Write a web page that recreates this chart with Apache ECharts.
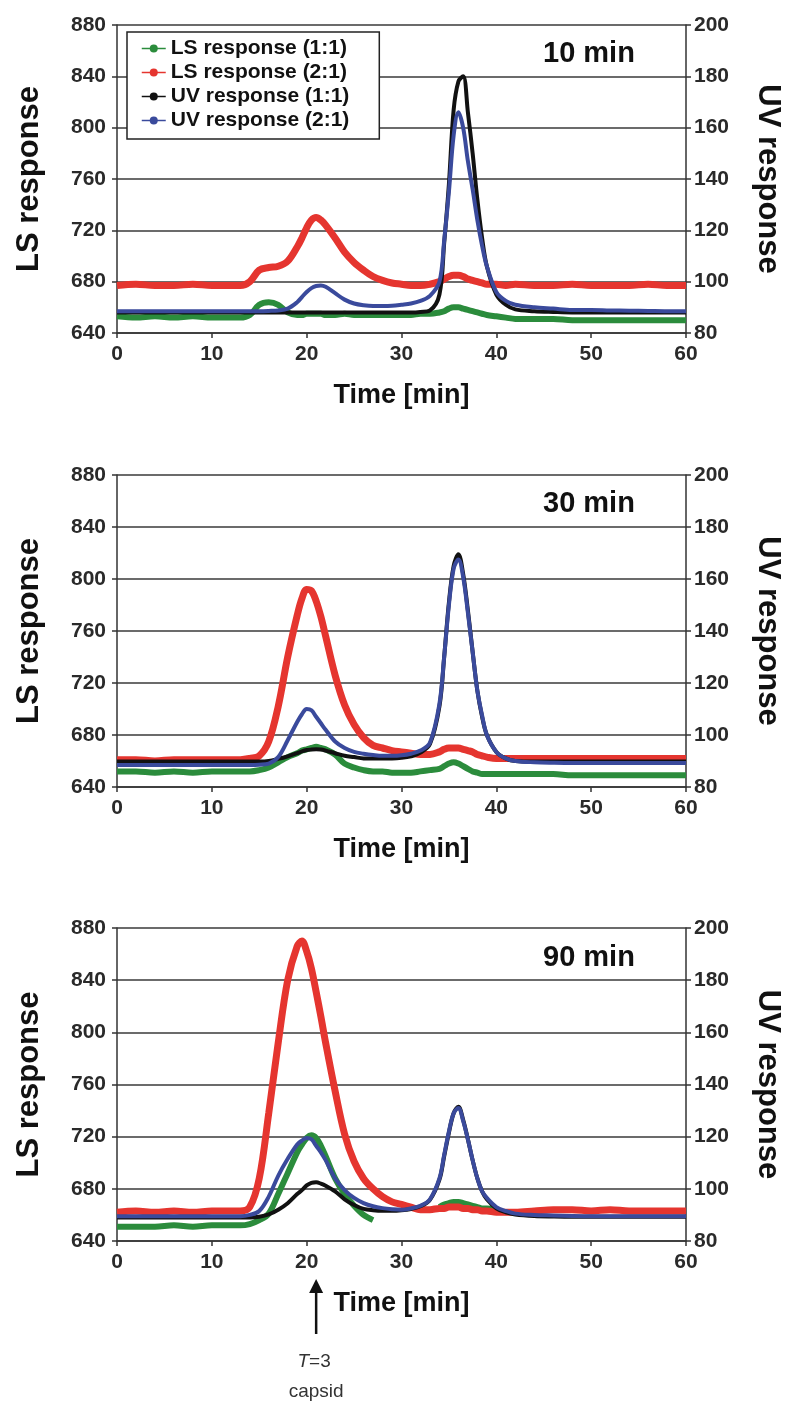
<!DOCTYPE html>
<html><head><meta charset="utf-8">
<script src="https://cdn.jsdelivr.net/npm/echarts@6/dist/echarts.min.js"></script>
<style>html,body{margin:0;padding:0;background:#fff}#c{width:800px;height:1420px}</style>
</head><body><div id="c"></div>
<script>
// ---- time axis (min) ----
const time = [0,2,4,6,8,10,12, 13,14,15,16,17,18,19, 19.5,20,20.5,21,21.5,
  22,23,24,25,26,27,28,29,30,31,32,33,34, 34.5,35,35.5,36,36.5,37,37.5,38,38.5,39,
  40,41,42, 44,46,48,50,52,54,56,58,60];

// ---- panel 1: 10 min ----
const ls11_10 = [653,652,653,652,653,652,652, 652,654,662,664,662,656,654, 654,655,655,655,655,
  654,654,655,654,654,654,654,654,654,654,655,655,656, 657,659,660,660,659,658,657,656,655,654,
  653,652,651, 651,651,650,650,650,650,650,650,650];
const ls21_10 = [677,678,677,677,678,677,677, 677,680,689,691,692,696,707, 714,722,728,730,728,
  724,714,703,695,689,684,681,679,678,677,677,678,680, 682,684,685,685,684,682,681,680,679,678,
  678,677,678, 677,677,678,677,677,677,678,677,677];
const uv11_10 = [88,88,88,88,88,88,88, 88,88,88,88,88,88,88, 88,88,88,88,88,
  88,88,88,88,88,88,88,88,88,88,88.2,88.8,95, 115,138,167,178,180,166,150,132,117,106,
  95,91,89.2, 88.5,88.2,88,88,88,88,88,88,88];
const uv21_10 = [88.5,88.5,88.5,88.5,88.5,88.5,88.5, 88.5,88.5,88.5,88.6,88.8,89.5,92, 94,96,97.5,98.3,98.5,
  98,95.5,93,91.5,90.8,90.5,90.5,90.6,91,91.5,92.5,94.5,100, 116,135,157,166,160,147,136,124,114,106,
  96,92.5,91, 90,89.5,89,89,88.8,88.7,88.6,88.5,88.5];

// ---- panel 2: 30 min ----
const ls11_30 = [652,652,651,652,651,652,652, 652,652,653,655,659,663,666, 668,669,670,671,670,
  669,665,658,655,653,652,652,651,651,651,652,653,654, 656,658,659,658,656,654,652,651,650,650,
  650,650,650, 650,650,649,649,649,649,649,649,649];
const ls21_30 = [661,661,660,661,661,661,661, 661,662,664,675,702,740,772, 785,792,791,783,771,
  756,726,703,688,678,672,670,668,667,666,665,665,667, 669,670,670,670,669,668,667,665,664,663,
  662,662,662, 662,662,662,662,662,662,662,662,662];
const uv11_30 = [89.8,89.8,89.8,89.8,89.8,89.8,89.8, 89.8,89.8,89.8,90,90.8,91.8,93, 93.7,94.2,94.4,94.5,94.4,
  94,93,92,91.5,91,91,91,91,91.2,91.8,93.2,96.5,111, 130,151,165,169.5,162,148,132,117,107,100,
  93.5,91,90, 89.8,89.8,89.8,89.8,89.8,89.8,89.8,89.8,89.8];
const uv21_30 = [88.5,88.5,88.5,88.5,88.5,88.5,88.5, 88.5,88.5,88.6,89,91.5,98,105, 108,110,109.5,107,104.5,
  102,97.5,95,93.5,92.8,92.3,92,92,92.2,92.8,94,97,112, 130,150,164,167.5,160.8,147,132,117,107.5,100,
  93.5,91,90, 89.5,89.3,89.2,89.2,89.2,89.2,89.2,89.2,89.2];

// ---- panel 3: 90 min ----
const ls11_90 = [651,651,651,652,651,652,652, 652,653,656,661,676,692,708, 714,719,721,719,713,
  705,688,676,667,660,656,null,null,null,null,null,null,666, 668,669,670,670,669,668,667,666,665,665,
  664,null,null, null,null,null,null,null,null,null,null,null];
const ls21_90 = [662,663,662,663,662,663,663, 663,666,688,738,792,840,866, 870,862,849,831,812,
  792,755,722,701,688,680,674,670,668,666,664,664,665, 665,666,666,666,665,665,664,664,663,663,
  662,662,662, 663,664,664,663,664,663,663,663,663];
const uv11_90 = [89,89,89,89,89,89,89, 89,89,89.3,90.2,92,94.5,98, 99.5,101.3,102.3,102.5,102,
  101.2,99,96,93.8,92.3,91.8,91.6,91.6,91.8,92.3,93.3,95.8,103.5, 112.5,121.5,129,131.5,126.5,119,111,104,99,96,
  92.5,91,90.2, 89.6,89.4,89.3,89.3,89.3,89.3,89.3,89.3,89.3];
const uv21_90 = [89.5,89.5,89.5,89.5,89.5,89.5,89.5, 89.5,90,91.5,97,105,111.5,117, 118.5,119.5,119,116.5,114,
  111,104,99.5,96.5,94.5,93.3,92.6,92.2,92,92.5,93.5,96,104, 113,122,129,131,126,119,111,104,99,96.5,
  93,91.5,90.5, 90,89.8,89.6,89.5,89.5,89.5,89.5,89.5,89.5];

// ---- labels ----
const panelLabels = ['10 min', '30 min', '90 min'];
const seriesNames = ['LS response (1:1)', 'LS response (2:1)', 'UV response (1:1)', 'UV response (2:1)'];
const lsTicks = {min: 640, max: 880, interval: 40};
const uvTicks = {min: 80, max: 200, interval: 20};
const timeTicks = {min: 0, max: 60, interval: 10};
const capsidTime = 21;

const panelData = [
  [ls11_10, ls21_10, uv11_10, uv21_10],
  [ls11_30, ls21_30, uv11_30, uv21_30],
  [ls11_90, ls21_90, uv11_90, uv21_90]
];

const FONT = "'Liberation Sans', Arial, sans-serif";
const colors = ['#2b8c3c', '#e5352f', '#111111', '#3a4a9c'];
const widths = [6, 7, 4, 4];
const zs = [2, 3, 4, 5];
const grids = [
  {left: 117, top: 25, width: 569, height: 308},
  {left: 117, top: 475, width: 569, height: 312},
  {left: 117, top: 928, width: 569, height: 313}
];
const labelTops = [39, 489, 943];

const xAxis = [], yAxis = [], series = [], title = [];
grids.forEach((g, i) => {
  xAxis.push({
    type: 'value', gridIndex: i, min: timeTicks.min, max: timeTicks.max, interval: timeTicks.interval,
    name: 'Time [min]', nameLocation: 'middle', nameGap: 49,
    nameTextStyle: {fontFamily: FONT, fontWeight: 'bold', fontSize: 27, color: '#111'},
    axisLine: {show: true, lineStyle: {color: '#333', width: 1.5}},
    axisTick: {show: true, length: 5, lineStyle: {color: '#333', width: 1.5}},
    axisLabel: {fontFamily: FONT, fontSize: 21, fontWeight: 'bold', color: '#2a2a2a', margin: 11},
    splitLine: {show: false}
  });
  yAxis.push({
    type: 'value', gridIndex: i, position: 'left', min: lsTicks.min, max: lsTicks.max, interval: lsTicks.interval,
    name: 'LS response', nameLocation: 'middle', nameRotate: 90, nameGap: 72,
    nameTextStyle: {fontFamily: FONT, fontWeight: 'bold', fontSize: 31, color: '#111'},
    axisLine: {show: true, lineStyle: {color: '#333', width: 1.5}},
    axisTick: {show: true, length: 5, lineStyle: {color: '#333', width: 1.5}},
    axisLabel: {fontFamily: FONT, fontSize: 21, fontWeight: 'bold', color: '#2a2a2a', margin: 11},
    splitLine: {show: true, lineStyle: {color: '#3a3a3a', width: 1.5}}
  });
  yAxis.push({
    type: 'value', gridIndex: i, position: 'right', min: uvTicks.min, max: uvTicks.max, interval: uvTicks.interval,
    name: 'UV response', nameLocation: 'middle', nameRotate: -90, nameGap: 66,
    nameTextStyle: {fontFamily: FONT, fontWeight: 'bold', fontSize: 31, color: '#111'},
    axisLine: {show: true, lineStyle: {color: '#333', width: 1.5}},
    axisTick: {show: true, length: 5, lineStyle: {color: '#333', width: 1.5}},
    axisLabel: {fontFamily: FONT, fontSize: 21, fontWeight: 'bold', color: '#2a2a2a', margin: 8},
    splitLine: {show: false}
  });
  title.push({
    text: panelLabels[i], left: 543, top: labelTops[i], padding: 0,
    textStyle: {fontFamily: FONT, fontWeight: 'bold', fontSize: 29, color: '#111'}
  });
  panelData[i].forEach((arr, k) => {
    series.push({
      name: seriesNames[k], type: 'line', xAxisIndex: i, yAxisIndex: 2 * i + (k < 2 ? 0 : 1),
      data: time.map((t, j) => [t, arr[j]]),
      smooth: 0.35, showSymbol: false, symbol: 'circle', symbolSize: 5,
      connectNulls: false, z: zs[k],
      color: colors[k],
      lineStyle: {color: colors[k], width: widths[k]},
      emphasis: {disabled: true}
    });
  });
});

const chart = echarts.init(document.getElementById('c'), null, {renderer: 'canvas'});
chart.setOption({
  animation: false,
  backgroundColor: '#fff',
  grid: grids,
  xAxis, yAxis, series, title,
  legend: {
    data: seriesNames, orient: 'vertical', left: 127, top: 32,
    backgroundColor: '#fff', borderColor: '#222', borderWidth: 1.5,
    padding: [6, 30, 8, 14], itemGap: 3, itemWidth: 24, itemHeight: 10,
    lineStyle: {width: 1.5},
    textStyle: {fontFamily: FONT, fontWeight: 'bold', fontSize: 21, color: '#111', lineHeight: 21}
  }
});

const px = chart.convertToPixel({xAxisIndex: 2}, capsidTime);
chart.setOption({
  graphic: [
    {type: 'line', shape: {x1: px, y1: 1334, x2: px, y2: 1288}, style: {stroke: '#111', lineWidth: 2.5}},
    {type: 'polygon', shape: {points: [[px, 1279], [px - 7, 1293], [px + 7, 1293]]}, style: {fill: '#111'}},
    {type: 'text', x: px - 2, y: 1362, style: {text: '{i|T}=3', rich: {i: {fontStyle: 'italic', fontFamily: FONT, fontSize: 19, fill: '#333'}}, fontFamily: FONT, fontSize: 19, fill: '#333', align: 'center', verticalAlign: 'middle'}},
    {type: 'text', x: px, y: 1392, style: {text: 'capsid', fontFamily: FONT, fontSize: 19, fill: '#333', align: 'center', verticalAlign: 'middle'}}
  ]
});
</script>
</body></html>
